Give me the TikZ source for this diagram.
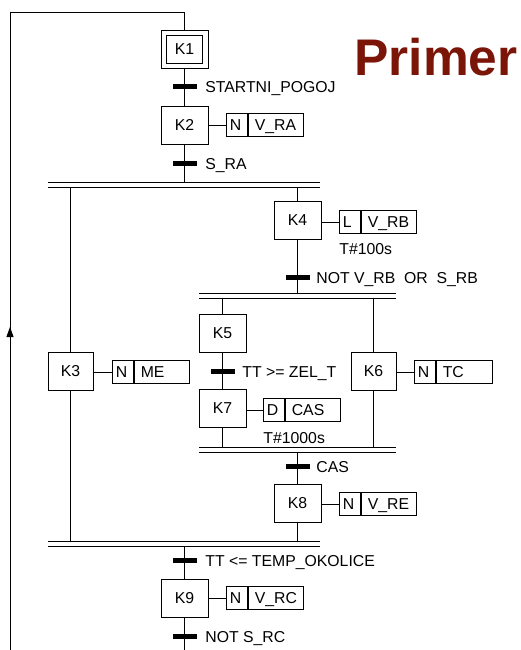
\documentclass[tikz,border=0pt]{standalone}
\usepackage{fontspec}
\setmainfont{Liberation Sans}
\usetikzlibrary{positioning,arrows.meta}
\definecolor{primerred}{RGB}{122,21,8}
\begin{document}
\begin{tikzpicture}[x=1pt,y=-1pt,line width=0.9pt,
  every node/.style={font=\fontsize{15.8}{18}\selectfont},
  stepbox/.style={draw,minimum width=47pt,minimum height=38pt,inner sep=0pt,text height=11pt,text depth=0pt},
  actq/.style={draw,minimum height=23pt,inner xsep=3pt,inner ysep=0pt,text width=15pt,align=left,text height=11pt,text depth=0pt},
  actn/.style={draw,minimum height=23pt,inner xsep=6pt,inner ysep=0pt,text width=43pt,align=left,text height=11pt,text depth=0pt},
  trans/.style={fill=black,minimum width=24pt,minimum height=5pt,inner sep=0pt},
  tlabel/.style={inner sep=0pt,anchor=base west},
  timelabel/.style={inner sep=0pt,anchor=north west}
]
\useasboundingbox (0,0) rectangle (521,650);

% title
\node[inner sep=0pt,anchor=base west,text=primerred,font=\fontsize{51.5}{56}\selectfont\bfseries] (title) at (354,76) {Primer};

% steps
\node[stepbox] (K1) at (184.5,49) {K1};
\draw ([shift={(6,6)}]K1.north west) rectangle ([shift={(-6,-5)}]K1.south east);
\node[stepbox] (K2) at (184.5,125) {K2};
\node[stepbox,minimum width=45pt] (K3) at (70.5,371) {K3};
\node[stepbox] (K4) at (297.5,220) {K4};
\node[stepbox] (K5) at (222.5,333) {K5};
\node[stepbox,minimum width=45pt] (K6) at (373.5,371) {K6};
\node[stepbox] (K7) at (222.5,408) {K7};
\node[stepbox] (K8) at (297.5,503) {K8};
\node[stepbox] (K9) at (184.5,598) {K9};

% actions
\node[actq,right=18pt of K2] (a2q) {N};
\node[actn,anchor=west] (a2n) at (a2q.east) {V\_RA};
\node[actq,right=18pt of K4,yshift=-2pt] (a4q) {L};
\node[actn,anchor=west] (a4n) at (a4q.east) {V\_RB};
\node[actq,right=19pt of K3,yshift=-1pt] (a3q) {N};
\node[actn,anchor=west] (a3n) at (a3q.east) {ME};
\node[actq,right=18pt of K6,yshift=-1pt] (a6q) {N};
\node[actn,anchor=west,text width=44pt] (a6n) at (a6q.east) {TC};
\node[actq,right=17pt of K7,yshift=-2pt] (a7q) {D};
\node[actn,anchor=west] (a7n) at (a7q.east) {CAS};
\node[actq,right=18pt of K8,yshift=-1pt] (a8q) {N};
\node[actn,anchor=west] (a8n) at (a8q.east) {V\_RE};
\node[actq,right=18pt of K9] (a9q) {N};
\node[actn,anchor=west] (a9n) at (a9q.east) {V\_RC};

\node[timelabel] (tm4) at (339,243) {T\#100s};
\node[timelabel] (tm7) at (263,432) {T\#1000s};

% transitions
\node[trans] (t1) at (184.5,87) {};
\node[trans] (t2) at (184.5,163) {};
\node[trans] (t3) at (297.5,277) {};
\node[trans] (t4) at (222.5,371) {};
\node[trans] (t5) at (297.5,466) {};
\node[trans] (t6) at (184.5,560) {};
\node[trans] (t7) at (184.5,636) {};
\node[tlabel] (l1) at ([shift={(8,6)}]t1.east) {STARTNI\_POGOJ};
\node[tlabel] (l2) at ([shift={(8,6)}]t2.east) {S\_RA};
\node[tlabel] (l3) at ([shift={(6,6)}]t3.east) {NOT V\_RB\ \ OR\ \ S\_RB};
\node[tlabel] (l4) at ([shift={(7,6)}]t4.east) {TT >= ZEL\_T};
\node[tlabel] (l5) at ([shift={(6,6)}]t5.east) {CAS};
\node[tlabel] (l6) at ([shift={(8,6)}]t6.east) {TT <= TEMP\_OKOLICE};
\node[tlabel] (l7) at ([shift={(8,6)}]t7.east) {NOT S\_RC};

% double lines coordinates
\coordinate (d1a) at (48,182); \coordinate (d1b) at (320,182);
\coordinate (d1c) at (48,187); \coordinate (d1d) at (320,187);
\coordinate (d2a) at (199,293); \coordinate (d2b) at (396,293);
\coordinate (d2c) at (199,298); \coordinate (d2d) at (396,298);
\coordinate (d3a) at (199,447); \coordinate (d3b) at (396,447);
\coordinate (d3c) at (199,452); \coordinate (d3d) at (396,452);
\coordinate (d4a) at (48,541); \coordinate (d4b) at (320,541);
\coordinate (d4c) at (48,546); \coordinate (d4d) at (320,546);
\coordinate (ltop) at (10,12);
\coordinate (lbot) at (10,650);
\coordinate (arrtip) at (10,327);
\coordinate (bot) at (184.5,650);

\draw (d1a) -- (d1b); \draw (d1c) -- (d1d);
\draw (d2a) -- (d2b); \draw (d2c) -- (d2d);
\draw (d3a) -- (d3b); \draw (d3c) -- (d3d);
\draw (d4a) -- (d4b); \draw (d4c) -- (d4d);

% connectors
\draw (K1.south) -- (K2.north);
\draw (K2.south) -- (K2.south |- d1a);
\draw (K3.north |- d1c) -- (K3.north);
\draw (K4.north |- d1c) -- (K4.north);
\draw (K4.south) -- (K4.south |- d2a);
\draw (K5.north |- d2c) -- (K5.north);
\draw (K6.north |- d2c) -- (K6.north);
\draw (K5.south) -- (K7.north);
\draw (K7.south) -- (K7.south |- d3a);
\draw (K6.south) -- (K6.south |- d3a);
\draw (K8.north |- d3c) -- (K8.north);
\draw (K3.south) -- (K3.south |- d4a);
\draw (K8.south) -- (K8.south |- d4a);
\draw (K9.north |- d4c) -- (K9.north);
\draw (K9.south) -- (bot);
\draw (lbot) -- (ltop) -| (K1.north);
\draw[-{Triangle[length=10pt,width=7pt]}] (lbot) -- (arrtip);

% action links
\draw (K2.east) -- (a2q.west);
\draw (K3.east |- a3q.west) -- (a3q.west);
\draw (K4.east |- a4q.west) -- (a4q.west);
\draw (K6.east |- a6q.west) -- (a6q.west);
\draw (K7.east |- a7q.west) -- (a7q.west);
\draw (K8.east |- a8q.west) -- (a8q.west);
\draw (K9.east) -- (a9q.west);
\end{tikzpicture}
\end{document}
